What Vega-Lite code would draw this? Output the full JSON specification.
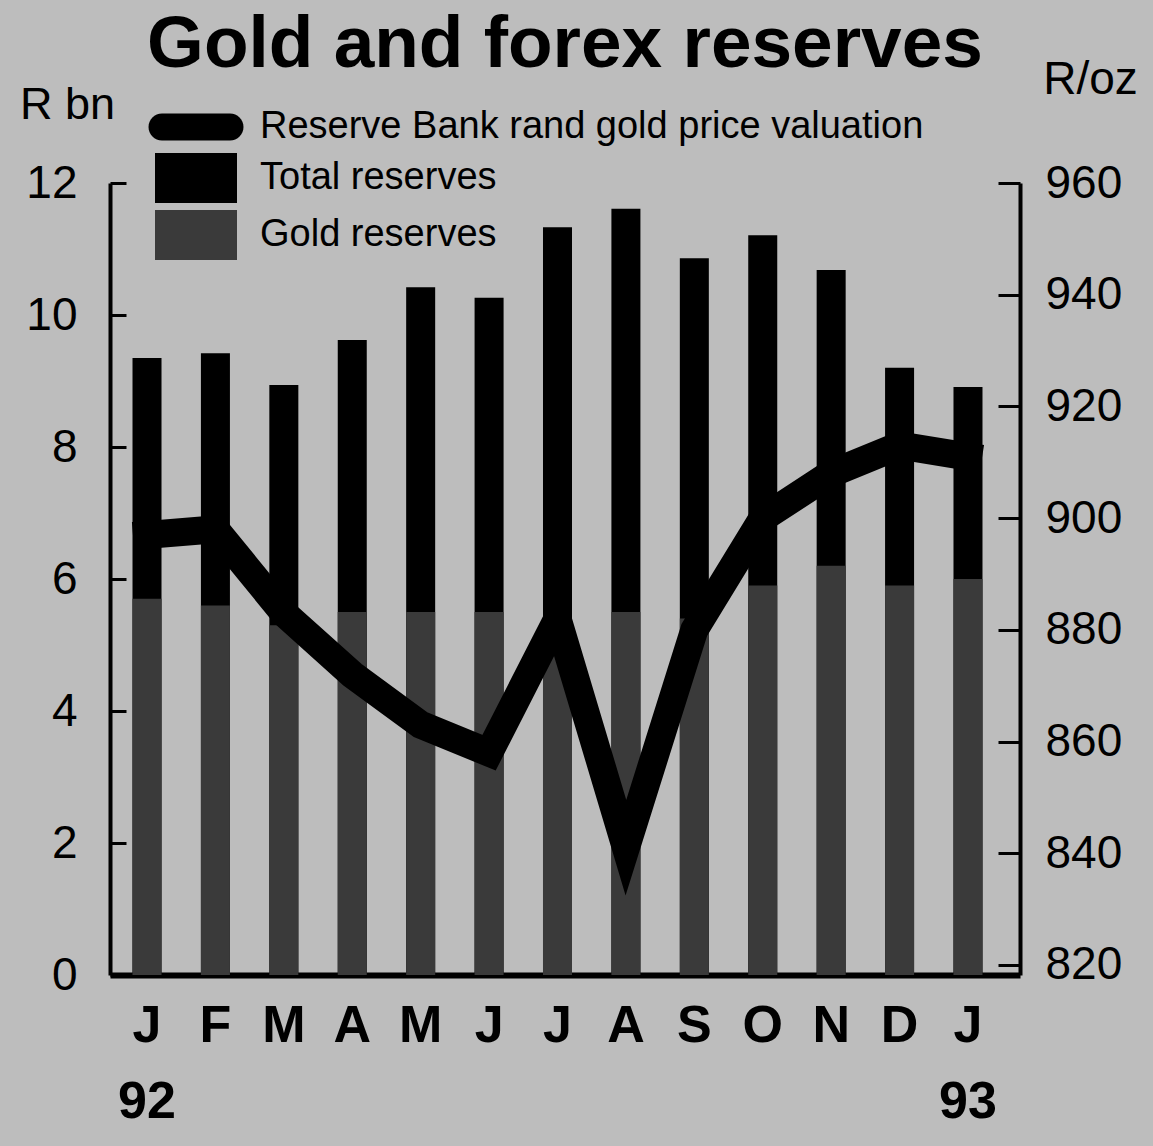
{
  "$schema": "https://vega.github.io/schema/vega-lite/v6.json",
  "width": 910,
  "height": 792,
  "autosize": {"type": "none"},
  "padding": {"left": 110, "top": 183, "right": 133, "bottom": 171},
  "background": "#bdbdbd",
  "config": {
    "view": {"stroke": null},
    "font": "Liberation Sans",
    "axis": {"grid": false}
  },
  "title": {
    "text": "Gold and forex reserves",
    "font": "Liberation Sans",
    "fontSize": 73,
    "fontWeight": "bold",
    "color": "#000",
    "anchor": "middle",
    "frame": "group",
    "offset": -26
  },
  "data": {
    "values": [
      {"month": "Jan 92", "total": 9.35, "gold": 5.7, "price": 897},
      {"month": "Feb", "total": 9.42, "gold": 5.6, "price": 898},
      {"month": "Mar", "total": 8.94, "gold": 5.3, "price": 883},
      {"month": "Apr", "total": 9.62, "gold": 5.5, "price": 872},
      {"month": "May", "total": 10.42, "gold": 5.5, "price": 863},
      {"month": "Jun", "total": 10.26, "gold": 5.5, "price": 858},
      {"month": "Jul", "total": 11.33, "gold": 5.0, "price": 882},
      {"month": "Aug", "total": 11.61, "gold": 5.5, "price": 841},
      {"month": "Sep", "total": 10.86, "gold": 5.4, "price": 880},
      {"month": "Oct", "total": 11.21, "gold": 5.9, "price": 900},
      {"month": "Nov", "total": 10.68, "gold": 6.2, "price": 908},
      {"month": "Dec", "total": 9.2, "gold": 5.9, "price": 913},
      {"month": "Jan 93", "total": 8.91, "gold": 6.0, "price": 911}
    ]
  },
  "encoding": {
    "x": {
      "field": "month",
      "type": "ordinal",
      "sort": null,
      "scale": {"type": "band", "paddingInner": 0.576, "paddingOuter": 0.4386, "align": 0.375},
      "axis": {
        "title": null,
        "ticks": false,
        "domain": true,
        "domainColor": "#000",
        "domainWidth": 6,
        "labelAngle": 0,
        "labelFont": "Liberation Sans",
        "labelFontWeight": "bold",
        "labelFontSize": 52,
        "labelColor": "#000",
        "labelPadding": 25,
        "labelBaseline": "top",
        "labelLineHeight": 76,
        "labelExpr": "datum.value == 'Jan 92' ? ['J','92'] : datum.value == 'Jan 93' ? ['J','93'] : substring(datum.value,0,1)"
      }
    }
  },
  "layer": [
    {
      "mark": {"type": "bar", "fillOpacity": 1},
      "encoding": {
        "y": {
          "field": "total",
          "type": "quantitative",
          "scale": {"domain": [0, 12], "nice": false, "zero": true},
          "axis": {
            "orient": "left",
            "values": [0, 2, 4, 6, 8, 10, 12],
            "title": "R bn",
            "titleAngle": 0,
            "titleFont": "Liberation Sans",
            "titleFontSize": 45,
            "titleFontWeight": "normal",
            "titleColor": "#000",
            "titleAlign": "center",
            "titleBaseline": "alphabetic",
            "titleX": -43,
            "titleY": -65,
            "domainColor": "#000",
            "domainWidth": 4,
            "tickColor": "#000",
            "tickWidth": 3,
            "tickSize": -16,
            "labelFont": "Liberation Sans",
            "labelFontSize": 46,
            "labelColor": "#000",
            "labelPadding": 49
          }
        },
        "color": {
          "datum": "Total reserves",
          "type": "nominal",
          "scale": {
            "domain": ["Reserve Bank rand gold price valuation", "Total reserves", "Gold reserves"],
            "range": ["#000000", "#000000", "#3a3a3a"]
          },
          "legend": {
            "orient": "none",
            "legendX": 61,
            "legendY": -81,
            "title": null,
            "symbolSize": 2500,
            "symbolType": "square",
            "labelFont": "Liberation Sans",
            "labelFontSize": 38,
            "labelColor": "#000",
            "labelOffset": 39,
            "labelLimit": 1000,
            "rowPadding": 7,
            "encode": {
              "symbols": {
                "update": {
                  "shape": {"signal": "datum.value === 'Reserve Bank rand gold price valuation' ? 'M-1.36,-0.54H1.36A0.54,0.54,0,0,1,1.36,0.54H-1.36A0.54,0.54,0,0,1,-1.36,-0.54Z' : 'M-1.64,-1H1.64V1H-1.64Z'"},
                  "fill": {"signal": "datum.value === 'Gold reserves' ? '#3a3a3a' : '#000000'"},
                  "fillOpacity": {"value": 1},
                  "strokeWidth": {"value": 0},
                  "opacity": {"value": 1}
                }
              }
            }
          }
        }
      }
    },
    {
      "mark": {"type": "bar", "fillOpacity": 1},
      "encoding": {
        "y": {
          "field": "gold",
          "type": "quantitative",
          "scale": {"domain": [0, 12], "nice": false, "zero": true},
          "axis": null
        },
        "color": {"datum": "Gold reserves", "type": "nominal"}
      }
    },
    {
      "mark": {"type": "line", "strokeWidth": 28, "strokeJoin": "miter", "strokeMiterLimit": 10, "strokeCap": "square"},
      "encoding": {
        "y": {
          "field": "price",
          "type": "quantitative",
          "scale": {"domain": [818.2, 960], "nice": false, "zero": false},
          "axis": {
            "orient": "right",
            "values": [820, 840, 860, 880, 900, 920, 940, 960],
            "title": "R/oz",
            "titleAngle": 0,
            "titleFont": "Liberation Sans",
            "titleFontSize": 46,
            "titleFontWeight": "normal",
            "titleColor": "#000",
            "titleAlign": "center",
            "titleBaseline": "alphabetic",
            "titleX": 70,
            "titleY": -90,
            "domainColor": "#000",
            "domainWidth": 4,
            "tickColor": "#000",
            "tickWidth": 3,
            "tickSize": -22,
            "labelFont": "Liberation Sans",
            "labelFontSize": 46,
            "labelColor": "#000",
            "labelPadding": 47
          }
        },
        "color": {"datum": "Reserve Bank rand gold price valuation", "type": "nominal"}
      }
    }
  ],
  "resolve": {"scale": {"y": "independent"}}
}
